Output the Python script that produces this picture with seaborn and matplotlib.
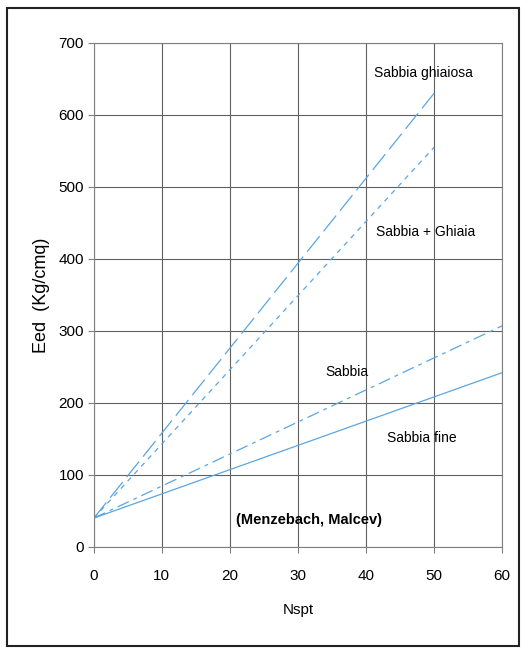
import numpy as np
import pandas as pd
import matplotlib
matplotlib.use("Agg")
import matplotlib.pyplot as plt
import seaborn as sns

# Eed vs Nspt (Menzebach, Malcev)
nspt_fine = [0, 60]
eed_fine = [40, 242]
nspt_sabbia = [0, 60]
eed_sabbia = [40, 307]
nspt_ghiaia = [0, 50]
eed_ghiaia = [40, 555]
nspt_ghiaiosa = [0, 50]
eed_ghiaiosa = [40, 630]

xticks = [0, 10, 20, 30, 40, 50, 60]
yticks = [0, 100, 200, 300, 400, 500, 600, 700]

df = pd.concat([
    pd.DataFrame({"Nspt": nspt_fine, "Eed": eed_fine, "tipo": "Sabbia fine"}),
    pd.DataFrame({"Nspt": nspt_sabbia, "Eed": eed_sabbia, "tipo": "Sabbia"}),
    pd.DataFrame({"Nspt": nspt_ghiaia, "Eed": eed_ghiaia, "tipo": "Sabbia + Ghiaia"}),
    pd.DataFrame({"Nspt": nspt_ghiaiosa, "Eed": eed_ghiaiosa, "tipo": "Sabbia ghiaiosa"}),
])

sns.set_style("white")
plt.rcParams['font.family'] = ['Liberation Sans', 'DejaVu Sans']
plt.rcParams['text.color'] = 'black'
plt.rcParams['axes.labelcolor'] = 'black'
plt.rcParams['xtick.color'] = 'black'
plt.rcParams['ytick.color'] = 'black'

fig = plt.figure(figsize=(5.21, 6.48), dpi=100)
ax = fig.add_axes([0.180, 0.156, 0.784, 0.778])

dashes = {"Sabbia fine": "", "Sabbia": (10, 4, 3, 4),
          "Sabbia + Ghiaia": (4, 4), "Sabbia ghiaiosa": (16, 5)}
pal = {k: "#5aa6e2" for k in dashes}
sns.lineplot(data=df, x="Nspt", y="Eed", hue="tipo", style="tipo",
             dashes=dashes, palette=pal, linewidth=0.9, legend=False, ax=ax)

ax.set_xlim(0, 60)
ax.set_ylim(0, 700)
ax.set_xticks(xticks)
ax.set_yticks(yticks)
ax.grid(True, color="#606060", linewidth=0.8)
for s in ax.spines.values():
    s.set_color("#808080")
    s.set_linewidth(0.8)
ax.tick_params(labelsize=11, length=4, color="#808080", direction="out",
               bottom=True, left=True)
ax.tick_params(axis="x", pad=12)
ax.tick_params(axis="y", pad=3)
ax.set_xlabel("Nspt", fontsize=11, labelpad=14)
ax.set_ylabel("Eed  (Kg/cmq)", fontsize=13, labelpad=6)

ax.text(48.4, 658, "Sabbia ghiaiosa", fontsize=10, ha="center", va="center")
ax.text(48.8, 437, "Sabbia + Ghiaia", fontsize=10, ha="center", va="center")
ax.text(37.2, 243, "Sabbia", fontsize=10, ha="center", va="center")
ax.text(48.2, 151, "Sabbia fine", fontsize=10, ha="center", va="center")
ax.text(31.6, 37, "(Menzebach, Malcev)", fontsize=10.5, fontweight="bold",
        ha="center", va="center")

# cornice attorno alla figura
fig.patches.append(plt.Rectangle((0.014, 0.003), 0.982, 0.985, transform=fig.transFigure,
                                 fill=False, edgecolor="#222222", linewidth=1.5))

fig.savefig("out.png", dpi=100)
